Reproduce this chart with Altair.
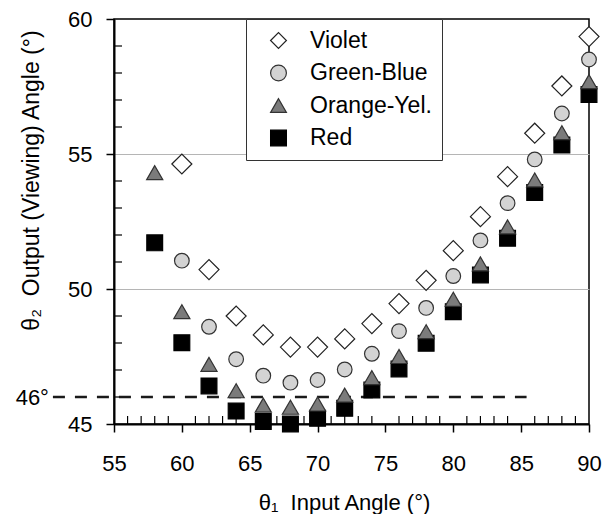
import altair as alt
import pandas as pd

# Input angle (deg) at which each colour band was measured
input_angle = [58, 60, 62, 64, 66, 68, 70, 72, 74, 76, 78, 80, 82, 84, 86, 88, 90]

# Output (viewing) angle per colour; None = not measured
violet = [None, 54.63, 50.72, 49.00, 48.30, 47.85, 47.85, 48.15, 48.72, 49.46,
          50.32, 51.42, 52.68, 54.16, 55.77, 57.52, 59.35]
green_blue = [None, 51.05, 48.60, 47.40, 46.79, 46.53, 46.63, 47.02, 47.60, 48.44,
              49.30, 50.48, 51.80, 53.18, 54.80, 56.50, 58.50]
orange_yel = [54.31, 49.16, 47.21, 46.23, 45.70, 45.62, 45.74, 46.07, 46.72, 47.50,
              48.42, 49.62, 50.93, 52.30, 54.04, 55.79, 57.68]
red = [51.71, 48.01, 46.41, 45.48, 45.09, 45.00, 45.21, 45.58, 46.26, 47.04,
       47.99, 49.16, 50.52, 51.88, 53.57, 55.33, 57.20]

series_names = ["Violet", "Green-Blue", "Orange-Yel.", "Red"]
series_values = [violet, green_blue, orange_yel, red]
series_shapes = ["diamond", "circle", "triangle-up", "square"]
series_fills = ["#ffffff", "#d3d3d3", "#7b7b7b", "#000000"]
series_strokes = ["#222222", "#333333", "#333333", "#000000"]
marker_sizes = [400, 215, 260, 250]

# Minimum-deviation reference line
ref_angle = 46
ref_span = [50.5, 85.4]

x_domain = [55, 90]
y_domain = [45, 60]
x_major = [55, 60, 65, 70, 75, 80, 85, 90]
x_minor = [v for v in range(55, 91) if v % 5]
y_major = [45, 50, 55, 60]
y_minor = [v for v in range(45, 61) if v % 5]

FONT = "Liberation Sans"
MINOR_LEN = 8

rows = []
for name, vals in zip(series_names, series_values):
    for a, v in zip(input_angle, vals):
        if v is not None:
            rows.append({"series": name, "angle": a, "theta2": v})
df = pd.DataFrame(rows)

xs = alt.Scale(domain=x_domain, nice=False, zero=False)
ys = alt.Scale(domain=y_domain, nice=False, zero=False)

legend = alt.Legend(
    title=None, orient="none", legendX=132, legendY=0, direction="vertical",
    fillColor="white", strokeColor="#333333", padding=10, rowPadding=8.5,
    labelFont=FONT, labelFontSize=23, labelColor="black", labelOffset=20,
    labelLimit=300, symbolSize=250, symbolStrokeWidth=1.2, symbolOffset=11,
)
shape_enc = alt.Shape("series:N", scale=alt.Scale(domain=series_names, range=series_shapes), legend=legend)
fill_enc = alt.Fill("series:N", scale=alt.Scale(domain=series_names, range=series_fills), legend=legend)
stroke_enc = alt.Stroke("series:N", scale=alt.Scale(domain=series_names, range=series_strokes), legend=legend)

x_axis = alt.Axis(
    values=x_major, orient="bottom", format="d", tickSize=8, tickWidth=1.5, tickColor="black",
    domainColor="black", domainWidth=2, labelFont=FONT, labelFontSize=22, labelColor="black",
    labelPadding=21, labelFlush=False, labelOverlap=False, grid=False,
    title="θ₁\u00a0\u00a0Input Angle (°)", titleFont=FONT, titleFontSize=22,
    titleFontWeight="normal", titleColor="black", titleX=230, titleY=85,
    titleBaseline="alphabetic", titleAlign="center",
)
y_axis = alt.Axis(
    values=y_major, orient="left", format="d", tickSize=8, tickWidth=1.5, tickColor="black",
    domainColor="black", domainWidth=2, labelFont=FONT, labelFontSize=22, labelColor="black",
    labelPadding=14, labelFlush=False, labelOverlap=False, grid=True, gridWidth=1,
    gridColor={"condition": {"test": "datum.value === 50 || datum.value === 55", "value": "#b5b5b5"},
               "value": "transparent"},
    title="θ₂\u00a0\u00a0Output (Viewing) Angle (°)", titleFont=FONT, titleFontSize=23,
    titleFontWeight="normal", titleColor="black", titleAngle=270, titleX=-76, titleY=161,
    titleBaseline="alphabetic", titleAlign="center",
)

# minor ticks, pointing into the plot from the bottom and left axes
x_minor_df = pd.DataFrame({"v": x_minor, "at": [y_domain[0]] * len(x_minor)})
y_minor_df = pd.DataFrame({"v": y_minor, "at": [x_domain[0]] * len(y_minor)})
x_minor_ticks = alt.Chart(x_minor_df).mark_tick(
    orient="vertical", size=MINOR_LEN, thickness=1.2, color="black", opacity=1, yOffset=-MINOR_LEN / 2
).encode(x=alt.X("v:Q", scale=xs, axis=x_axis), y=alt.Y("at:Q", scale=ys, axis=y_axis))
y_minor_ticks = alt.Chart(y_minor_df).mark_tick(
    orient="horizontal", size=MINOR_LEN, thickness=1.2, color="black", opacity=1, xOffset=MINOR_LEN / 2
).encode(x=alt.X("at:Q", scale=xs, axis=x_axis), y=alt.Y("v:Q", scale=ys, axis=y_axis))

ref_df = pd.DataFrame({"x0": [ref_span[0]], "x1": [ref_span[1]], "y": [ref_angle],
                       "label": [f"{ref_angle}°"]})

ref_line = alt.Chart(ref_df).mark_rule(strokeDash=[12, 10], strokeWidth=2.5, color="#1a1a1a").encode(
    x=alt.X("x0:Q", scale=xs, axis=x_axis),
    x2="x1:Q",
    y=alt.Y("y:Q", scale=ys, axis=y_axis),
)
ref_label = alt.Chart(ref_df).mark_text(
    align="right", baseline="middle", dx=-4, dy=1, font=FONT, fontSize=22, color="black"
).encode(
    x=alt.X("x0:Q", scale=xs, axis=x_axis),
    y=alt.Y("y:Q", scale=ys, axis=y_axis),
    text="label:N",
)

# draw order: red at the bottom, violet on top
point_layers = []
for i in [3, 2, 1, 0]:
    sub = df[df["series"] == series_names[i]]
    point_layers.append(
        alt.Chart(sub).mark_point(filled=True, opacity=1, strokeWidth=1.2, size=marker_sizes[i]).encode(
            x=alt.X("angle:Q", scale=xs, axis=x_axis),
            y=alt.Y("theta2:Q", scale=ys, axis=y_axis),
            shape=shape_enc, fill=fill_enc, stroke=stroke_enc,
        )
    )

chart = alt.layer(x_minor_ticks, y_minor_ticks, ref_line, ref_label, *point_layers).properties(
    width=475, height=405,
    padding={"left": 114, "top": 19, "right": 13, "bottom": 90},
    autosize=alt.AutoSizeParams(type="none"),
    background="white",
).configure_view(stroke="black", strokeWidth=1.5)

chart.save("out.html", embed_options={"renderer": "svg", "actions": False})
